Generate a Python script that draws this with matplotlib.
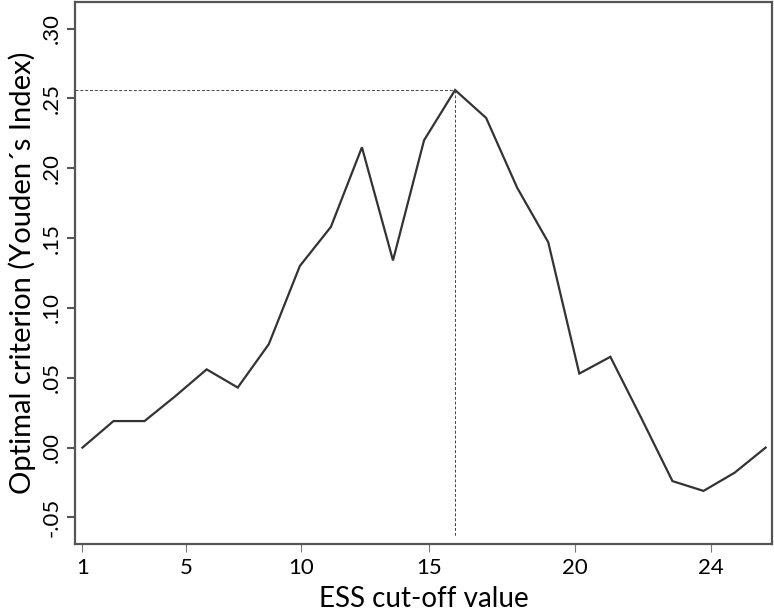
import numpy as np
import matplotlib
matplotlib.use("Agg")
import matplotlib.pyplot as plt

# point positions along the x axis (evenly spaced cut-off steps)
point_pos = [0, 1, 2, 3, 4, 5, 6, 7, 8, 9, 10, 11, 12, 13, 14, 15, 16, 17, 18, 19, 20, 21, 22]
# Youden's index at each step
youden = [0.000, 0.019, 0.019, 0.037, 0.056, 0.043, 0.074, 0.130, 0.158, 0.215,
          0.134, 0.220, 0.256, 0.236, 0.186, 0.147, 0.053, 0.065, 0.021, -0.024,
          -0.031, -0.018, 0.000]

# x tick labels and where they sit on the step axis
xtick_labels = ["1", "5", "10", "15", "20", "24"]
xtick_pos = [0, 3.33, 7.04, 11.16, 15.86, 20.24]

ytick_vals = [-0.05, 0.00, 0.05, 0.10, 0.15, 0.20, 0.25, 0.30]
ytick_labels = ["-.05", ".00", ".05", ".10", ".15", ".20", ".25", ".30"]

plt.rcParams['font.family'] = ['Lato', 'DejaVu Sans']

fig = plt.figure(figsize=(7.74, 6.13), dpi=100)
ax = fig.add_axes([0.0973, 0.1126, 0.9003, 0.8841])

ax.plot(point_pos, youden, color="#333333", linewidth=1.6, solid_joinstyle="miter")

# dotted guide lines to the maximum
i_max = int(np.argmax(youden))
x_max, y_max = point_pos[i_max], youden[i_max]
ax.plot([-0.23, x_max], [y_max, y_max], color="#444444", linewidth=0.7, linestyle=(0, (3, 2)))
ax.plot([x_max, x_max], [y_max, -0.063], color="#444444", linewidth=0.7, linestyle=(0, (3, 2)))

ax.set_xlim(-0.23, 22.21)
ax.set_ylim(-0.069, 0.319)

ax.set_xticks(xtick_pos)
ax.set_xticklabels(xtick_labels, fontsize=16)
ax.set_yticks(ytick_vals)
ax.set_yticklabels(ytick_labels, fontsize=16, rotation=90, va="center")

ax.tick_params(axis="y", length=6, width=1.5, color="#555555", pad=4)
ax.tick_params(axis="x", length=6, width=0.8, color="#777777", pad=4)

for s in ax.spines.values():
    s.set_color("#555555")
    s.set_linewidth(1.6)

ax.set_xlabel("ESS cut-off value", fontsize=20, labelpad=6)
ax.set_ylabel("Optimal criterion (Youden\u00b4s Index)", fontsize=21, labelpad=4)

fig.savefig("out.png", dpi=100)
